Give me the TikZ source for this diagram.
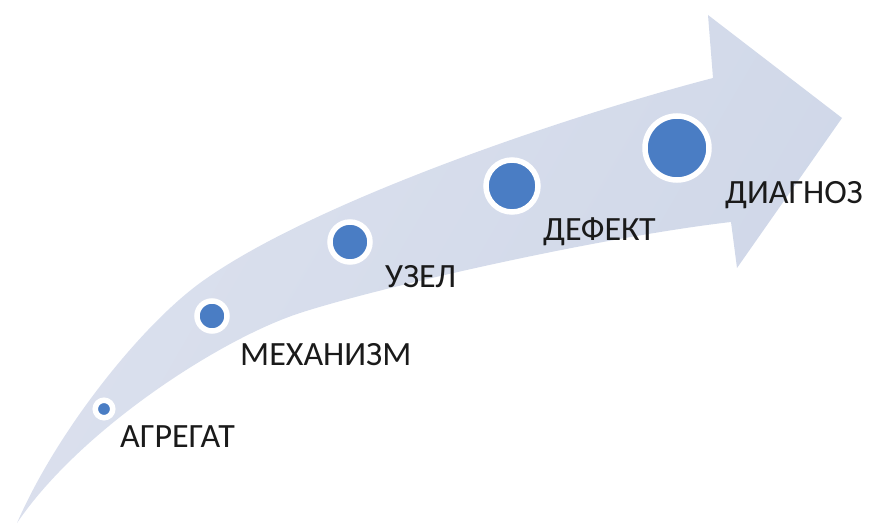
\documentclass[tikz,border=0pt]{standalone}
\usepackage{fontspec}
\setmainfont{Carlito}
\usetikzlibrary{shadows}
\definecolor{bandblue}{HTML}{CFD7E8}
\definecolor{bandpale}{HTML}{DCE1EE}
\definecolor{dotblue}{HTML}{4A7DC4}
\definecolor{labelgray}{HTML}{1A1A1A}
\tikzset{
  milestone/.style={circle, inner sep=0pt, fill=dotblue, draw=white,
    line width=5.5pt, minimum size=#1,
    drop shadow={opacity=0.22, shadow xshift=0.8pt, shadow yshift=-1.5pt}},
  steplabel/.style={anchor=base west, inner sep=0pt, text=labelgray,
    font=\fontsize{34}{34}\selectfont},
}
\begin{document}
\begin{tikzpicture}[x=1pt, y=-1pt]
  \useasboundingbox (0,0) rectangle (871,529);
  % curved arrow band, slightly paler towards its tail
  \shade[left color=bandpale, right color=bandblue, shading angle=60]
    (17,523) .. controls (57,431) and (140,327) .. (200,283)
             .. controls (310,203) and (563,117) .. (713,78)
    -- (708,15) -- (842,118) -- (737,268) -- (731,222)
             .. controls (601,237) and (380,287) .. (300,313)
             .. controls (220,339) and (80,430) .. (17,523)
    -- cycle;
  % milestones growing along the band
  \node[milestone=17.5pt] (agregat)  at (104,409) {};
  \node[milestone=30pt]   (mehanizm) at (212,316) {};
  \node[milestone=40pt]   (uzel)     at (350,242) {};
  \node[milestone=52pt]   (defekt)   at (512,186) {};
  \node[milestone=64pt]   (diagnoz)  at (677,148) {};
  % step names
  \node[steplabel] (tagregat)  at (120,448) {АГРЕГАТ};
  \node[steplabel] (tmehanizm) at (240,366) {МЕХАНИЗМ};
  \node[steplabel] (tuzel)     at (385,288) {УЗЕЛ};
  \node[steplabel] (tdefekt)   at (543,241) {ДЕФЕКТ};
  \node[steplabel] (tdiagnoz)  at (725,204) {ДИАГНОЗ};
\end{tikzpicture}
\end{document}
